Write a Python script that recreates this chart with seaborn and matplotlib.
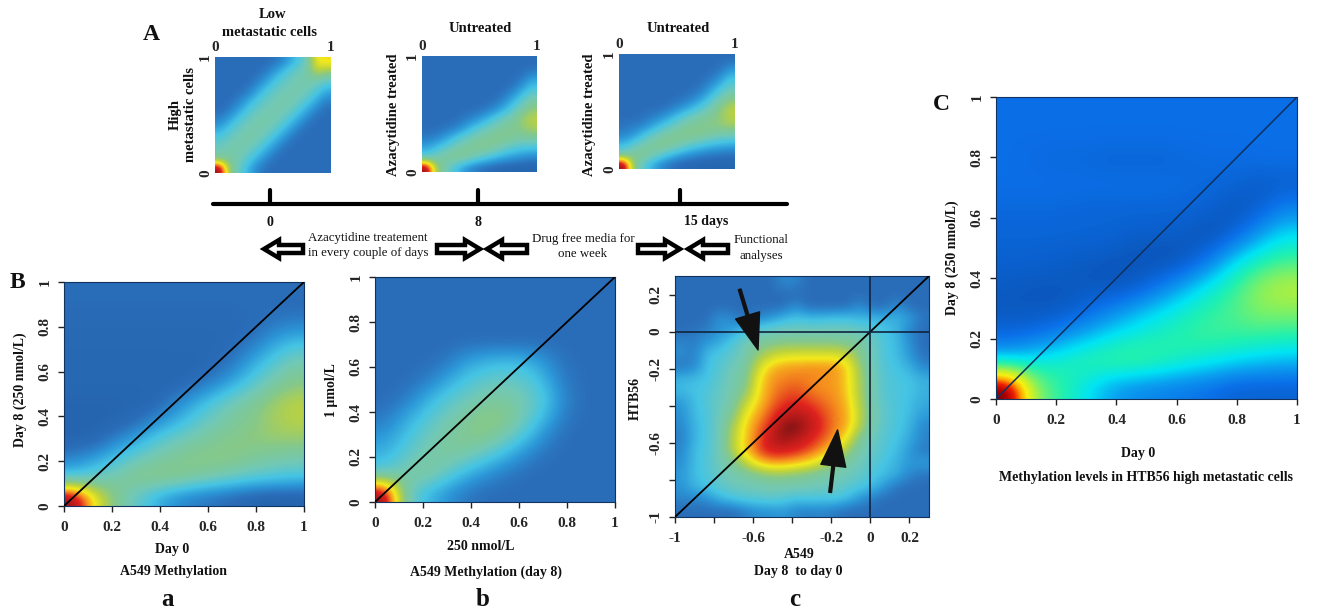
import numpy as np
import matplotlib
matplotlib.use('Agg')
import matplotlib.pyplot as plt
from matplotlib.colors import LinearSegmentedColormap, Normalize
from matplotlib.patches import FancyArrow
import seaborn as sns

W, H = 1320, 613

# density grids, rows run top to bottom, cols left to right
# scale: -1 dark blue, 0 blue, 2 cyan, 4 green, 6 yellow, 7 orange, 8 red, 10 dark red
low_vs_high = [
    [0, 0, 0, 0, 0, 0, .3, 1.0, 2.0, 3.0, 6.0, 6.2],
    [0, 0, 0, 0, 0, .5, 1.4, 2.3, 3.0, 3.3, 5.0, 4.4],
    [0, 0, 0, 0, .5, 1.4, 2.3, 2.9, 3.2, 3.3, 3.2, 2.6],
    [0, 0, 0, .4, 1.4, 2.3, 2.9, 3.2, 3.3, 3.1, 2.4, 1.4],
    [0, 0, .5, 1.4, 2.3, 2.9, 3.2, 3.3, 3.1, 2.4, 1.4, .5],
    [0, .4, 1.3, 2.3, 2.9, 3.2, 3.3, 3.1, 2.4, 1.4, .5, 0],
    [.5, 1.3, 2.3, 2.9, 3.3, 3.3, 3.1, 2.4, 1.4, .5, 0, 0],
    [1.4, 2.3, 2.9, 3.3, 3.4, 3.1, 2.4, 1.4, .5, 0, 0, 0],
    [2.4, 2.9, 3.3, 3.4, 3.1, 2.4, 1.4, .5, 0, 0, 0, 0],
    [3, 3.3, 3.3, 3.1, 2.4, 1.4, .5, 0, 0, 0, 0, 0],
    [3.6, 3.5, 3.2, 2.4, 1.4, .5, 0, 0, 0, 0, 0, 0],
    [9.5, 4.2, 2.8, 1.5, .5, 0, 0, 0, 0, 0, 0, 0],
]
treated_day8 = [
    [0, 0, 0, 0, 0, 0, 0, 0, 0, 0, 0, 0],
    [0, 0, 0, 0, 0, 0, 0, 0, 0, 0, 0, .2],
    [0, 0, 0, 0, 0, 0, 0, 0, 0, 0, .4, 1.3],
    [0, 0, 0, 0, 0, 0, 0, 0, 0, .4, 1.3, 2.2],
    [0, 0, 0, 0, 0, 0, 0, 0, .5, 1.4, 2.4, 3.4],
    [0, 0, 0, 0, 0, 0, .2, .6, 1.4, 2.4, 3.4, 4.2],
    [0, 0, 0, 0, .3, .7, 1.3, 2.2, 3, 3.5, 4.4, 5],
    [0, 0, .2, .5, 1.2, 2.1, 2.8, 3.3, 3.7, 3.9, 4.2, 4.7],
    [.3, .6, 1.2, 2.1, 2.8, 3.3, 3.7, 3.9, 4, 3.7, 3.5, 3.6],
    [1.3, 1.9, 2.6, 3.2, 3.6, 3.9, 3.9, 3.6, 3, 2.5, 2.2, 2.1],
    [2.5, 3.2, 3.7, 4, 3.8, 3.1, 2.5, 1.9, 1.4, 1.1, .8, .6],
    [9.5, 4.4, 3.2, 2, 1, .4, 0, -.2, -.3, -.4, -.4, -.4],
]
treated_day15 = [
    [0, 0, 0, 0, 0, 0, 0, 0, 0, 0, 0, 0],
    [0, 0, 0, 0, 0, 0, 0, 0, 0, 0, .2, .9],
    [0, 0, 0, 0, 0, 0, 0, 0, 0, .3, .9, 2],
    [0, 0, 0, 0, 0, 0, 0, 0, .3, 1, 2, 2.8],
    [0, 0, 0, 0, 0, 0, .1, .4, 1, 2, 3, 3.8],
    [0, 0, 0, 0, 0, .3, .8, 1.4, 2.2, 3.1, 4, 4.9],
    [0, 0, .1, .4, .8, 1.5, 2.3, 3, 3.4, 3.8, 4.3, 5],
    [.2, .4, .6, 1.3, 2.1, 2.8, 3.4, 3.8, 4, 4.1, 4.2, 4.5],
    [.6, 1.1, 2, 2.9, 3.4, 3.8, 4, 4, 3.8, 3.4, 3.2, 3],
    [1.8, 2.6, 3.3, 3.7, 4, 3.7, 3.2, 2.6, 2.2, 1.8, 1.6, 1.4],
    [3.2, 3.8, 3.9, 3.4, 2.6, 1.8, 1.2, .8, .5, .3, .2, .1],
    [9.5, 4.2, 2.6, 1.4, .6, .1, -.2, -.3, -.4, -.4, -.4, -.4],
]
a549_day0_day8 = [
    [0, 0, 0, 0, 0, 0, 0, 0, 0, 0, 0, 0],
    [-.1, -.1, -.1, -.1, -.1, -.1, -.1, -.1, -.1, 0, 0, 0],
    [-.2, -.2, -.2, -.2, -.2, -.2, -.2, -.2, -.2, -.1, .5, .8],
    [-.2, -.2, -.2, -.2, -.2, -.2, -.2, -.2, -.1, .6, 1.5, 2.3],
    [-.3, -.3, -.3, -.3, -.3, -.3, -.3, -.2, .5, 1.6, 2.6, 3.4],
    [-.3, -.3, -.3, -.3, -.3, -.3, 0, .7, 1.6, 2.6, 3.5, 4.1],
    [-.4, -.4, -.4, -.4, -.3, .5, 1.4, 2.4, 3.2, 3.8, 4.5, 5],
    [-.5, -.5, -.4, -.1, .7, 1.5, 2.4, 3.1, 3.7, 4, 4.6, 4.9],
    [-.4, -.3, .5, 1.3, 2.3, 3, 3.4, 3.8, 4.1, 4.2, 4.3, 4.3],
    [.6, 1.2, 2, 2.9, 3.4, 3.8, 4.1, 4.2, 4.1, 3.7, 3.4, 3.2],
    [2.2, 2.8, 3.4, 4, 4.2, 4.1, 3.6, 3.2, 2.8, 2.4, 2.2, 2],
    [9.5, 6, 4, 2.8, 1.7, .8, .4, .1, -.2, -.5, -.6, -.6],
]
a549_250_vs_1um = [
    [0, 0, 0, 0, 0, 0, 0, 0, 0, 0, 0, 0],
    [0, 0, 0, 0, 0, 0, 0, 0, 0, 0, 0, 0],
    [0, 0, 0, 0, 0, 0, 0, 0, 0, 0, 0, 0],
    [0, 0, 0, 0, 0, 0, 0, 0, 0, 0, 0, 0],
    [0, 0, 0, .2, 1.1, 1.6, 1.8, 1.7, .9, .1, 0, 0],
    [0, 0, .3, 1.2, 2.1, 2.6, 2.8, 2.6, 1.6, .3, 0, 0],
    [0, .3, 1.4, 2.3, 2.9, 3.4, 3.6, 3.1, 2.2, .6, 0, 0],
    [.3, 1.3, 2.2, 3, 3.6, 4.3, 4.1, 3, 1.7, .3, 0, 0],
    [1, 1.9, 2.8, 3.5, 4, 4, 3.2, 2.1, .7, 0, 0, 0],
    [1.6, 2.5, 3.3, 3.6, 3.3, 2.6, 1.7, .7, .1, 0, 0, 0],
    [2.6, 3.4, 3.8, 2.8, 1.7, .9, .3, 0, 0, 0, 0, 0],
    [9.5, 3.4, 1.8, 1, .3, 0, 0, 0, 0, 0, 0, 0],
]
a549_vs_htb56 = [
    [0, 0, 0, 0, 0, 0, 0, 0, .7, .6, 0, 0, 0, 0, 0, 0, 0, 0, 0, 0],
    [0, 0, 0, 0, 0, 0, 0, 0, 0, 0, 0, 0, 0, 0, 0, 0, 0, 0, 0, 0],
    [0, 0, 0, 0, 0, 0, 0, 0, 0, .8, 0, 0, 0, 0, .8, 0, 0, .8, 0, 0],
    [0, 0, 0, 1, .6, 0, .6, 1, 1.6, 2, 1.8, 1.8, 2, 2, 1.6, 1.8, 1.6, 1.6, 1.2, .2],
    [0, .2, .4, .9, 1.2, 2, 2.6, 2.8, 3, 3, 3, 3, 3, 3, 2.9, 2.4, 2, 1.6, .5, 0],
    [.6, .4, 1, 1.4, 2.2, 3, 3.6, 3.8, 4, 4, 4, 4, 4, 3.8, 3.6, 3, 2.2, 1.8, .8, 0],
    [.8, .4, 1.8, 2.2, 2.6, 3.2, 4.2, 5, 5.4, 5.5, 5.5, 5.5, 5.5, 5.2, 4, 3, 2.2, 1.8, 1, .1],
    [.3, .6, 1.9, 2.4, 3, 3.4, 5.2, 6.4, 6.8, 6.9, 7, 7, 7, 6.4, 4.5, 3.1, 2.3, 2, 1.5, .6],
    [1.6, 1.8, 2, 2.6, 3.2, 3.6, 5.8, 6.9, 7.1, 7.2, 7.1, 7, 6.9, 6.4, 4.8, 3.2, 2.4, 2.1, 2, 1.5],
    [1.8, 2, 2.2, 2.8, 3.2, 4, 6, 7, 7.4, 7.6, 7.3, 7, 7, 6.4, 4.8, 3.2, 2.4, 2.2, 2, 1.6],
    [1, 1.8, 2.4, 2.8, 3.4, 5, 6.3, 7.2, 7.8, 8, 7.8, 7.4, 7.1, 6.6, 5, 3.3, 2.5, 2.2, 1.9, 1.4],
    [.8, 1.8, 2.2, 3, 3.8, 5.8, 6.8, 7.6, 8.4, 8.8, 8.4, 7.8, 7.2, 6.8, 5.2, 3.4, 2.6, 2.2, 1.8, 1.1],
    [.6, 1.6, 2.2, 3, 4.6, 6.2, 7.2, 8, 9.4, 9.6, 8.8, 8, 7.2, 6.8, 5, 3.3, 2.5, 2.2, 1.6, .6],
    [.4, 1.6, 2.2, 3, 4.8, 6.3, 7.4, 8.6, 9.2, 8.8, 8.2, 7.6, 7, 6, 3.8, 3, 2.4, 2, 1.4, .6],
    [.6, 1.8, 2.3, 3, 4.8, 6.4, 7.6, 8.2, 8.2, 8, 7.6, 7, 6.2, 4.6, 3.3, 2.8, 2.3, 1.8, 1, .3],
    [.8, 1.8, 2.3, 3, 3.6, 5, 6.3, 6.9, 6.9, 6.6, 6.2, 5.4, 4.2, 3.4, 3, 2.6, 2, 1.6, 1, 1.2],
    [1, 1.8, 2.3, 2.8, 3.2, 3.4, 3.8, 4.2, 4.2, 4, 3.7, 3.4, 3.2, 3, 2.8, 2.2, 1.8, 1.4, .6, .2],
    [.9, 1.6, 2, 2.6, 2.9, 3, 3.1, 3.2, 3.2, 3.2, 3.1, 3, 2.9, 2.6, 2.2, 1.8, 1, .2, 0, 0],
    [.6, .6, .8, 1.6, 2, 2.4, 2.4, 2.6, 2.4, 2, 2.2, 2, 2.2, 1.8, 1, .4, 0, 0, 0, 0],
    [0, 0, 0, 0, 0, .4, .8, .8, 1, .6, .4, .6, .3, 0, 0, 0, 0, 0, 0, 0],
]
htb56_day0_day8 = [
    [0, 0, 0, 0, 0, 0, 0, 0, 0, 0, 0, 0],
    [0, 0, 0, 0, 0, 0, 0, 0, 0, 0, 0, 0],
    [0, -.1, -.2, -.2, -.3, -.3, -.3, -.2, -.1, -.1, 0, 0],
    [0, 0, 0, 0, 0, 0, 0, -.1, -.2, -.3, -.6, -.5],
    [-.2, -.2, -.2, -.3, -.3, -.3, -.3, -.3, -.4, -.8, -.4, .5],
    [-.3, -.3, -.3, -.3, -.3, -.5, -.5, -.6, -.9, -.3, 1, 2],
    [-.4, -.4, -.5, -.6, -.7, -.8, -.9, -.8, .2, 1.8, 2.8, 3.4],
    [-.6, -.7, -.7, -.7, -.8, -.7, .1, 1.1, 2.2, 3.2, 4.5, 5],
    [-.7, -.7, -.7, -.3, .4, 1.2, 1.9, 2.6, 3.2, 3.6, 4.3, 4.3],
    [-.2, 0, .6, 1.3, 2, 2.5, 2.9, 3.2, 3.4, 3.3, 3.2, 3],
    [1.8, 2.2, 2.7, 3.2, 3.5, 3.6, 3.2, 2.7, 2.3, 1.9, 1.6, 1.4],
    [10, 4.5, 3.2, 2.2, 1.1, .6, .4, .2, 0, -.4, -.4, -.4],
]

unit_ticks = [0, 0.2, 0.4, 0.6, 0.8, 1]
unit_labels = ['0', '0.2', '0.4', '0.6', '0.8', '1']
diff_ticks_x = [-1, -0.8, -0.6, -0.4, -0.2, 0, 0.2]
diff_labels_x = ['-1', '', '-0.6', '', '-0.2', '0', '0.2']
diff_ticks_y = [0.2, 0, -0.2, -0.4, -0.6, -0.8, -1]
diff_labels_y = ['0.2', '0', '-0.2', '', '-0.6', '', '-1']

cell_stops = [-1, 0, 1, 2, 3, 4, 5, 6, 7, 8, 9, 10]
muted_colors = ['#205da6', '#2a6db8', '#2c98d8', '#45c4e4', '#70c8b8', '#84c88c',
                '#bcd23e', '#f3ea1c', '#f6921e', '#e0231f', '#a81818', '#4d0f0f']
bright_colors = ['#0a4fae', '#0a6fe8', '#0a9ff0', '#00e4f4', '#20f0b0', '#70f070',
                 '#c0f030', '#f8f010', '#ffa000', '#f02000', '#b00000', '#600000']

def make_cmap(colors):
    return LinearSegmentedColormap.from_list(
        'density', [((s + 1) / 11, c) for s, c in zip(cell_stops, colors)])

muted = make_cmap(muted_colors)
bright = make_cmap(bright_colors)
norm = Normalize(-1, 10)

sns.set_style('white')
plt.rcParams['font.family'] = ['Liberation Serif', 'DejaVu Sans']
plt.rcParams['font.weight'] = 'bold'

fig = plt.figure(figsize=(W / 100, H / 100), dpi=100, facecolor='white')

# overlay in image pixels, for the labels that sit outside the panels
overlay = fig.add_axes([0, 0, 1, 1], zorder=5)
overlay.set_xlim(0, W)
overlay.set_ylim(H, 0)
overlay.axis('off')
overlay.patch.set_alpha(0)

def label(x, y, text, size=10, rotation=0, weight='bold'):
    overlay.text(x, y, text, fontsize=size, fontweight=weight, rotation=rotation,
                 ha='center', va='center', color='#111111')

# Draws one density panel, box is left, top, right, bottom in image pixels.
def density_panel(box, grid, lo=0.0, hi=1.0, cmap=muted):
    left, top, right, bottom = box
    ax = fig.add_axes([left / W, 1 - bottom / H, (right - left) / W, (bottom - top) / H])
    grid = np.array(grid, dtype=float)
    n = grid.shape[0]
    sns.heatmap(grid, ax=ax, cmap=cmap, norm=norm, cbar=False, xticklabels=False, yticklabels=False)
    # the mesh is blocky, smooth the same cells on top of it
    ax.imshow(grid, cmap=cmap, norm=norm, extent=(0, n, n, 0), aspect='auto',
              interpolation='bicubic', zorder=2)
    ax.set_xlim(0, n)
    ax.set_ylim(n, 0)
    ax.to_x = lambda v: (np.asarray(v, dtype=float) - lo) / (hi - lo) * n
    ax.to_y = lambda v: (hi - np.asarray(v, dtype=float)) / (hi - lo) * n
    return ax

def big_ticks(ax, xticks, xlabels, yticks, ylabels, size=11, pad=7):
    ax.set_xticks(ax.to_x(xticks))
    ax.set_xticklabels(xlabels, fontsize=size, fontweight='bold')
    ax.set_yticks(ax.to_y(yticks))
    ax.set_yticklabels(ylabels, fontsize=size, fontweight='bold', rotation=90, va='center')
    ax.tick_params(axis='both', length=4, width=1, color='#222222', pad=pad, left=True, bottom=True)
    ax.tick_params(axis='y', pad=5)
    for s in ax.spines.values():
        s.set_visible(True)
        s.set_color('#12335e')
        s.set_linewidth(0.8)

def small_ticks(ax):
    ax.xaxis.tick_top()
    ax.set_xticks(ax.to_x([0, 1]))
    ax.set_xticklabels(['0', '1'], fontsize=11, fontweight='bold')
    ax.set_yticks(ax.to_y([0, 1]))
    ax.set_yticklabels(['0', '1'], fontsize=11, fontweight='bold', rotation=90, va='center')
    ax.tick_params(axis='both', length=0, pad=2, left=True, top=True)

def diagonal(ax, start, end, color='black', lw=1.3):
    ax.plot(ax.to_x([start, end]), ax.to_y([start, end]), color=color, lw=lw, zorder=3)

# Panel A
a1 = density_panel((215, 57, 331, 173), low_vs_high)
a2 = density_panel((422, 56, 537, 172), treated_day8)
a3 = density_panel((619, 54, 735, 169), treated_day15)
for ax in (a1, a2, a3):
    small_ticks(ax)
label(151, 35, 'A', 17)
label(273, 15, 'Low', 10.5)
label(269, 32, 'metastatic cells', 10.5)
label(480, 28, 'Untreated', 10.5)
label(678, 29, 'Untreated', 10.5)
label(175, 115, 'High', 10.5, 90)
label(190, 115, 'metastatic cells', 10.5, 90)
label(394, 115, 'Azacytidine treated', 10.5, 90)
label(590, 115, 'Azacytidine treated', 10.5, 90)

# Timeline under panel A
overlay.plot([213, 787], [204, 204], color='black', lw=3, solid_capstyle='round')
for x in [270, 478, 680]:
    overlay.plot([x, x], [190, 204], color='black', lw=3, solid_capstyle='round')
label(270, 222, '0', 10)
label(478, 222, '8', 10)
label(706, 221, '15 days', 10)
label(368, 238, 'Azacytidine treatement', 9.3, weight='normal')
label(368, 253, 'in every couple of days', 9.3, weight='normal')
label(583, 239, 'Drug free media for', 9.3, weight='normal')
label(583, 254, 'one week', 9.3, weight='normal')
label(761, 240, 'Functional', 9.3, weight='normal')
label(761, 256, 'analyses', 9.3, weight='normal')
for x0, x1 in [(303, 264), (437, 480), (527, 487), (638, 680), (728, 688)]:
    overlay.add_patch(FancyArrow(x0, 249, x1 - x0, 0, width=8, head_width=18, head_length=15,
                                 length_includes_head=True, fc='white', ec='black', lw=3.2))

# Panel B a
ba = density_panel((64, 282, 304, 506), a549_day0_day8)
big_ticks(ba, unit_ticks, unit_labels, unit_ticks, unit_labels)
diagonal(ba, 0, 1)
label(17, 282, 'B', 17)
label(20, 390, 'Day 8 (250 nmol/L)', 10, 90)
label(172, 550, 'Day 0', 10)
label(174, 572, 'A549 Methylation', 10)
label(167, 600, 'a', 18)

# Panel B b
bb = density_panel((375, 277, 615, 502), a549_250_vs_1um)
big_ticks(bb, unit_ticks, unit_labels, unit_ticks, unit_labels)
diagonal(bb, 0, 1)
label(332, 390, '1 µmol/L', 10, 90)
label(481, 546, '250 nmol/L', 10)
label(486, 572, 'A549 Methylation (day 8)', 10)
label(483, 600, 'b', 18)

# Panel B c
bc = density_panel((675, 276, 929, 517), a549_vs_htb56, lo=-1.0, hi=0.3)
big_ticks(bc, diff_ticks_x, diff_labels_x, diff_ticks_y, diff_labels_y)
diagonal(bc, -1, 0.3)
bc.plot(bc.to_x([-1, 0.3]), bc.to_y([0, 0]), color='#10243f', lw=1.2, zorder=3)
bc.plot(bc.to_x([0, 0]), bc.to_y([-1, 0.3]), color='#10243f', lw=1.2, zorder=3)
for tail, tip in [((-0.669, 0.228), (-0.575, -0.099)), ((-0.206, -0.867), (-0.168, -0.53))]:
    bc.annotate('', xy=(bc.to_x(tip[0]), bc.to_y(tip[1])), xytext=(bc.to_x(tail[0]), bc.to_y(tail[1])),
                arrowprops=dict(width=2, headwidth=18, headlength=26, fc='#111111', ec='#111111', shrink=0),
                zorder=4)
label(635, 398, 'HTB56', 10, 90)
label(799, 555, 'A549', 10)
label(798, 572, 'Day 8  to day 0', 10)
label(795, 600, 'c', 18)

# Panel C
cc = density_panel((996, 97, 1297, 399), htb56_day0_day8, cmap=bright)
big_ticks(cc, unit_ticks, unit_labels, unit_ticks, unit_labels)
diagonal(cc, 0, 1, color='#10305e', lw=1.1)
label(941, 105, 'C', 17)
label(952, 258, 'Day 8 (250 nmol/L)', 10, 90)
label(1138, 453, 'Day 0', 10)
label(1146, 478, 'Methylation levels in HTB56 high metastatic cells', 10)

fig.savefig('out.png', dpi=100)
